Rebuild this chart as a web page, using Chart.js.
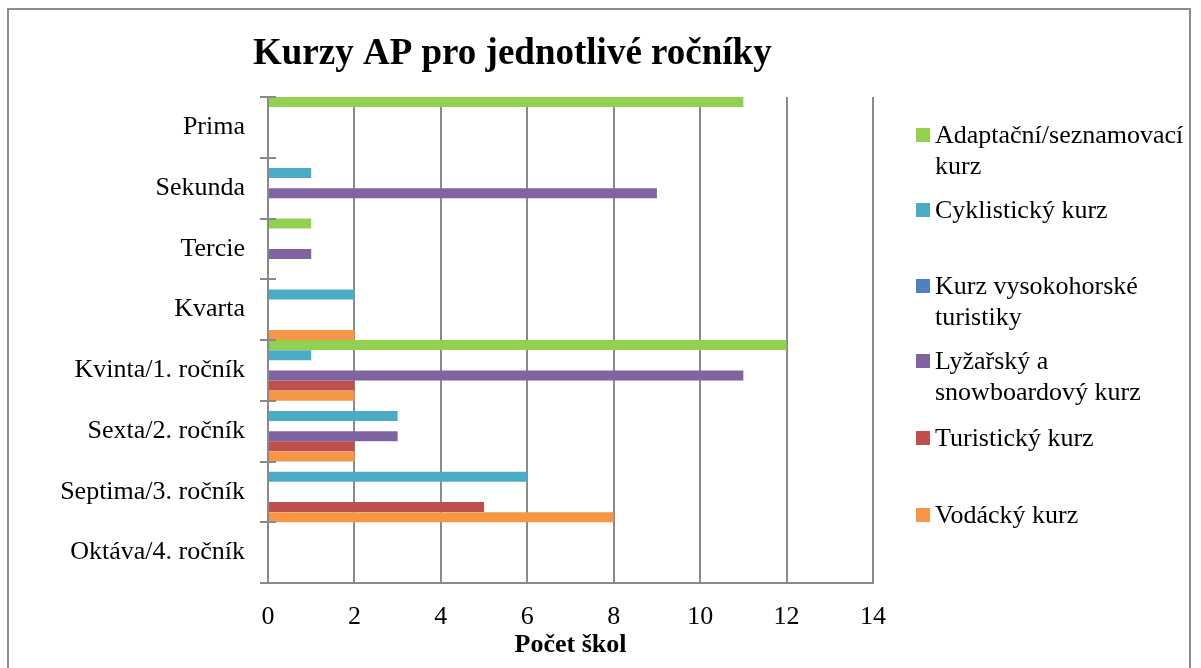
<!DOCTYPE html>
<html>
<head>
<meta charset="utf-8">
<script src="https://cdn.jsdelivr.net/npm/chart.js@4"></script>
<style>
  body { margin: 0; background: #fff; }
  #wrap { position: relative; width: 1201px; height: 668px; }
</style>
</head>
<body>
<div id="wrap"><canvas id="chart" width="1201" height="668"></canvas></div>
<script>
// data
const categories = ["Prima", "Sekunda", "Tercie", "Kvarta", "Kvinta/1. ročník", "Sexta/2. ročník", "Septima/3. ročník", "Oktáva/4. ročník"]
const seriesNames = [
    ["Adaptační/seznamovací", "kurz"],
    ["Cyklistický kurz"],
    ["Kurz vysokohorské", "turistiky"],
    ["Lyžařský a", "snowboardový kurz"],
    ["Turistický kurz"],
    ["Vodácký kurz"]
]
const adaptacni   = [11, 0, 1, 0, 12, 0, 0, 0]
const cyklisticky = [0, 1, 0, 2, 1, 3, 6, 0]
const vysokohorsky = [0, 0, 0, 0, 0, 0, 0, 0]
const lyzarsky    = [0, 9, 1, 0, 11, 3, 0, 0]
const turisticky  = [0, 0, 0, 0, 2, 2, 5, 0]
const vodacky     = [0, 0, 0, 2, 2, 2, 8, 0]
const xTicks = [0, 2, 4, 6, 8, 10, 12, 14]

const colors = ["#92D050", "#4BACC6", "#4F81BD", "#8064A2", "#C0504D", "#F79646"]
const allSeries = [adaptacni, cyklisticky, vysokohorsky, lyzarsky, turisticky, vodacky]

const FONT = "'Liberation Serif', 'Times New Roman', serif"
const GRID = "#8a8a8a"

// legend baselines (layout only)
const legendBase = [143, 218, 294, 369, 446, 523]

const extras = {
    id: "extras",
    beforeDraw(chart) {
        const ctx = chart.ctx
        ctx.save()
        ctx.strokeStyle = "#8c8c8c"
        ctx.lineWidth = 2
        ctx.strokeRect(8, 9, 1182, 700)
        ctx.restore()
    },
    afterDraw(chart) {
        const ctx = chart.ctx
        const y = chart.scales.y
        const area = chart.chartArea
        ctx.save()

        // category boundary ticks crossing the axis
        ctx.strokeStyle = GRID
        ctx.lineWidth = 2
        for (let i = 0; i <= categories.length; i++) {
            const py = Math.round(y.getPixelForValue(i - 0.5))
            ctx.beginPath()
            ctx.moveTo(area.left - 8, py)
            ctx.lineTo(area.left + 8, py)
            ctx.stroke()
        }

        // title
        ctx.fillStyle = "#000"
        ctx.font = "bold 37px " + FONT
        ctx.textBaseline = "alphabetic"
        ctx.textAlign = "left"
        ctx.fillText("Kurzy AP pro jednotlivé ročníky", 253, 64)

        // legend
        ctx.font = "26px " + FONT
        chart.data.datasets.forEach((ds, i) => {
            const base = legendBase[i]
            ctx.fillStyle = ds.backgroundColor
            ctx.fillRect(916, base - 15, 14, 14)
            ctx.fillStyle = "#000"
            seriesNames[i].forEach((line, k) => {
                ctx.fillText(line, 935, base + k * 31)
            })
        })
        ctx.restore()
    }
}

new Chart(document.getElementById("chart"), {
    type: "bar",
    data: {
        labels: categories,
        datasets: allSeries.map((vals, i) => ({
            label: seriesNames[i].join(" "),
            data: vals,
            backgroundColor: colors[i],
            borderWidth: 0
        }))
    },
    options: {
        indexAxis: "y",
        responsive: false,
        animation: false,
        layout: { padding: { top: 97, right: 328, left: 0, bottom: 0 } },
        datasets: { bar: { categoryPercentage: 1, barPercentage: 0.98 } },
        plugins: {
            legend: { display: false },
            title: { display: false },
            tooltip: { enabled: false }
        },
        scales: {
            x: {
                min: 0,
                max: 14,
                afterBuildTicks: s => { s.ticks = xTicks.map(v => ({ value: v })) },
                afterFit: s => { s.height = 85 },
                grid: { color: GRID, lineWidth: 2, drawTicks: false },
                border: { color: GRID, width: 2 },
                ticks: { color: "#000", padding: 19, font: { family: FONT, size: 26 } },
                title: {
                    display: true,
                    text: "Počet škol",
                    color: "#000",
                    font: { family: FONT, size: 26, weight: "bold" },
                    padding: { top: 0, bottom: 7 }
                }
            },
            y: {
                afterFit: s => { s.width = 268 },
                grid: { display: false, drawTicks: false },
                border: { color: GRID, width: 2 },
                ticks: { color: "#000", padding: 23, font: { family: FONT, size: 26 } }
            }
        }
    },
    plugins: [extras]
})
</script>
</body>
</html>
